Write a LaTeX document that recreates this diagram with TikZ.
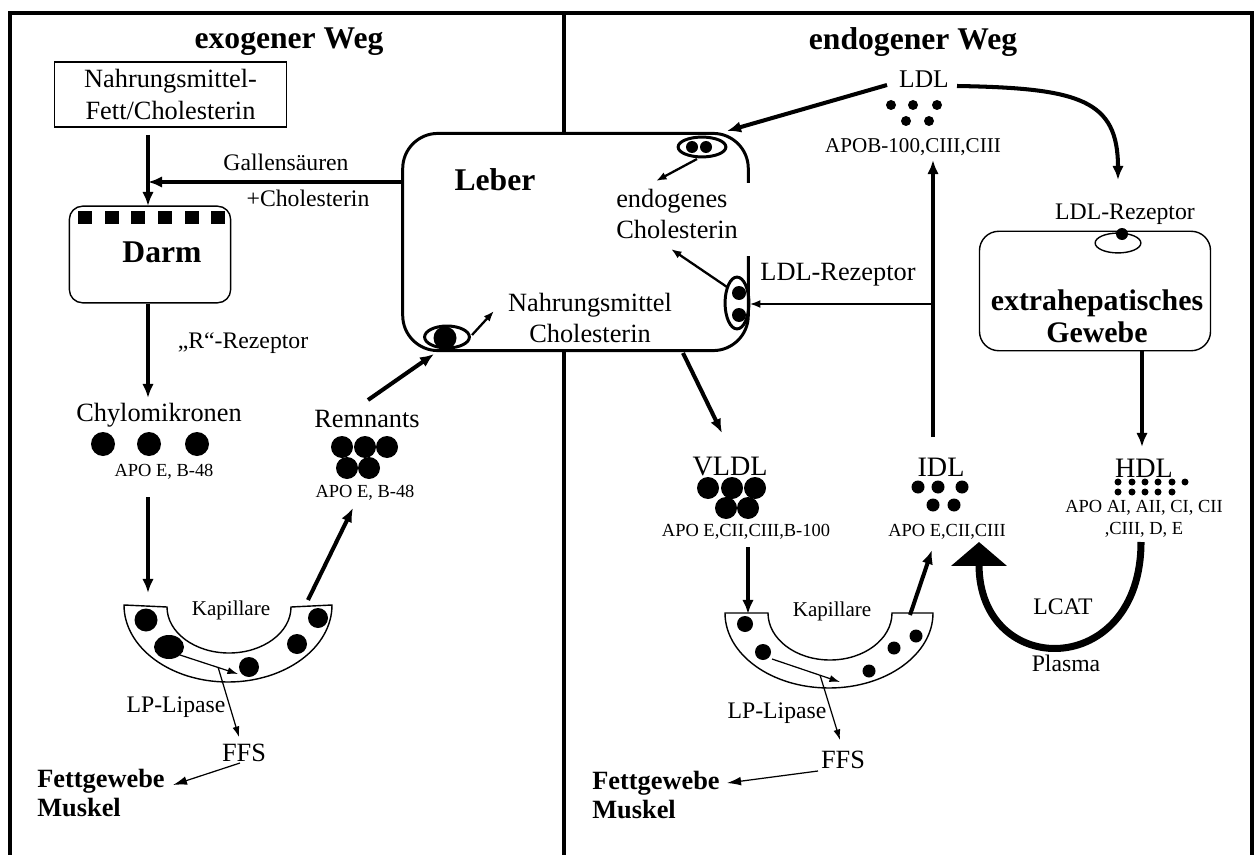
\documentclass[tikz,border=0pt]{standalone}
\usepackage{fontspec}
\setmainfont{Liberation Serif}
\usetikzlibrary{arrows.meta,shapes.geometric}

\tikzset{
  titel/.style={font=\bfseries\fontsize{18}{20}\selectfont, inner sep=1pt},
  organname/.style={font=\bfseries\fontsize{18}{20}\selectfont, inner sep=1pt},
  big/.style={font=\fontsize{15}{18}\selectfont, inner sep=1pt, align=center},
  mid/.style={font=\fontsize{13.5}{15}\selectfont, inner sep=1pt},
  apo/.style={font=\fontsize{10.5}{12.5}\selectfont, inner sep=1pt, align=center},
  lipo/.style={font=\fontsize{16}{18}\selectfont, inner sep=1pt},
  fett/.style={font=\bfseries\fontsize{15}{17}\selectfont, inner sep=0pt, align=left, anchor=west},
  pfeil/.style={line width=2.3pt, -{Latex[length=8pt,width=6.5pt]}},
  mittel/.style={line width=1.3pt, -{Latex[length=6pt,width=4.5pt]}},
  duenn/.style={line width=0.7pt, -{Latex[length=6pt,width=4pt]}},
  organ/.style={draw, line width=0.8pt},
  rezeptor/.style={ellipse, draw, line width=1.7pt, inner sep=0pt},
  kapillare/.style={draw, line width=0.8pt}
}

\begin{document}
\begin{tikzpicture}[x=0.02cm,y=-0.02cm]
\useasboundingbox (0,0) rectangle (1258,855);
% Rahmen
\draw[line width=2.3pt] (10,855) -- (10,13) -- (1252,13) -- (1252,855);
\draw[line width=2.3pt] (564,13) -- (564,855);
\node[titel] (exo) at (289,42) {exogener Weg};
\node[titel] (endo) at (913,42) {endogener Weg};

% exogener Weg
\node[organ, minimum width=132pt, minimum height=36.8pt, big] (nahrung) at (170.5,94.5) {Nahrungsmittel-\\Fett/Cholesterin};
\node[organ, rounded corners=7.5pt, minimum width=91.8pt, minimum height=55pt] (darm) at (150,254.5) {};
\foreach \x in {85,112,138,165,192,218}
  \fill (\x-6.7,211) rectangle (\x+6.7,224);
\node[organname] (darmtext) at (162,252) {Darm};
\node[mid] (galle) at (286,162) {Gallensäuren};
\node[mid] (gallechol) at (308,198) {+Cholesterin};
\node[mid] (rrez) at (243,343) {„R“-Rezeptor};
\node[big] (chylo) at (159,415) {Chylomikronen};
\foreach \x in {103,149,197}
  \fill (\x,444) circle[radius=12];
\node[apo] (apochylo) at (164,472) {APO E, B-48};
\node[big] (remn) at (367,419) {Remnants};
\foreach \x in {342,365,387}
  \fill (\x,447) circle[radius=11];
\foreach \x in {347,369}
  \fill (\x,468) circle[radius=11];
\node[apo] (aporemn) at (365,493) {APO E, B-48};

% Kapillare links
\draw[kapillare] (124,605) -- (167,607) arc[start angle=180, end angle=0, x radius=62, y radius=46]
  -- (332,605) arc[start angle=0, end angle=180, x radius=104, y radius=77] -- cycle;
\fill (146,620) circle[radius=11.5] (249,667) circle[radius=10] (297,644) circle[radius=10] (318,618) circle[radius=10];
\fill (169,647) ellipse[x radius=15, y radius=12];
\node[font=\fontsize{12}{14}\selectfont] (kapL) at (231,610) {Kapillare};
\node[mid] (lipL) at (176,707) {LP-Lipase};
\node[big] (ffsL) at (244,753) {FFS};
\node[fett] (fettL) at (37,793) {Fettgewebe\\Muskel};

% Leber
\node[draw, fill=white, line width=1.7pt, rounded corners=20pt, minimum width=196.7pt, minimum height=123.6pt] (leber) at (575.5,242) {};
\fill[white] (744,183) rectangle (754,256);
\node[organname] (lebertext) at (495,180) {Leber};
\node[big, align=left] (endochol) at (677,214) {endogenes\\Cholesterin};
\node[big] (nahrchol) at (590,318) {Nahrungsmittel\\Cholesterin};
\node[rezeptor, minimum width=25.5pt, minimum height=12.5pt] (rezL) at (447,337) {};
\fill (445,338) circle[radius=11.5];
\node[rezeptor, minimum width=27.2pt, minimum height=11.3pt] (rezO) at (702,147) {};
\fill (692,147) circle[radius=6] (706,147) circle[radius=6];
\node[rezeptor, minimum width=13.6pt, minimum height=29.5pt] (rezR) at (737,303) {};
\fill (739,293) circle[radius=7] (739,315) circle[radius=7];

% endogener Weg
\node[font=\fontsize{14.5}{16}\selectfont, inner sep=1pt] (ldl) at (924,79) {LDL};
\foreach \x in {891,913,937}
  \fill (\x,105) circle[radius=5];
\foreach \x in {906,929}
  \fill (\x,121) circle[radius=5];
\node[font=\fontsize{12}{14}\selectfont, inner sep=1pt] (apoldl) at (913,147) {APOB-100,CIII,CIII};
\node[big] (ldlrez) at (838,275) {LDL-Rezeptor};
\node[mid] (ldlrezE) at (1125,214) {LDL-Rezeptor};
\node[organ, rounded corners=11pt, minimum width=131.5pt, minimum height=68pt] (extra) at (1095,291) {};
\node[rezeptor, line width=0.8pt, minimum width=26pt, minimum height=11.3pt] (rezE) at (1118,243) {};
\fill (1122,234) circle[radius=6];
\node[font=\bfseries\fontsize{17}{18}\selectfont, inner sep=1pt, align=center] (extratext) at (1097,316) {extrahepatisches\\Gewebe};

\node[lipo] (vldl) at (730,467) {VLDL};
\foreach \x in {708,732,755}
  \fill (\x,488) circle[radius=11];
\foreach \x in {726,748}
  \fill (\x,508) circle[radius=11];
\node[apo] (apovldl) at (746,532) {APO E,CII,CIII,B-100};
\node[lipo] (idl) at (941,467) {IDL};
\foreach \x in {918,938,962}
  \fill (\x,487) circle[radius=6.5];
\foreach \x in {933,954}
  \fill (\x,505) circle[radius=6.5];
\node[apo] (apoidl) at (947,532) {APO E,CII,CIII};
\node[lipo] (hdl) at (1144,468) {HDL};
\foreach \x in {1118,1132,1145,1158,1172,1185}
  \fill (\x,482) circle[radius=3.5];
\foreach \x in {1118,1132,1145,1158,1172}
  \fill (\x,492) circle[radius=3.5];
\node[apo, font=\fontsize{10.5}{12.5}\selectfont] (apohdl) at (1144,519) {APO AI, AII, CI, CII\\,CIII, D, E};
\node[mid] (lcat) at (1063,607) {LCAT};
\node[mid] (plasma) at (1066,663) {Plasma};

% Kapillare rechts
\draw[kapillare] (725,613) -- (768,613) arc[start angle=180, end angle=0, x radius=62, y radius=47]
  -- (933,613) arc[start angle=0, end angle=180, x radius=104, y radius=75] -- cycle;
\fill (745,624) circle[radius=8] (763,652) circle[radius=8] (869,671) circle[radius=6.5]
  (894,648) circle[radius=6.5] (916,636) circle[radius=6.5];
\node[font=\fontsize{12}{14}\selectfont] (kapR) at (832,611) {Kapillare};
\node[mid] (lipR) at (777,713) {LP-Lipase};
\node[big] (ffsR) at (843,760) {FFS};
\node[fett] (fettR) at (592,795) {Fettgewebe\\Muskel};

% Pfeile
\coordinate (gal) at (148,182);
\coordinate (kapLo) at (148,593);
\coordinate (kapLr) at (308,600);
\coordinate (remnU) at (353,508);
\coordinate (remnO) at (368,400);
\coordinate (rezLz) at (434,354);
\coordinate (nahrz) at (494,311);
\coordinate (ldlA) at (887,85);
\coordinate (rezOz) at (727,131);
\coordinate (endoz) at (656,181);
\coordinate (endoz2) at (671,249);
\coordinate (idlO) at (933,437);
\coordinate (ldlU) at (933,160);
\coordinate (abzw) at (933,304);
\coordinate (ldlB) at (957,86);
\coordinate (rezEz) at (1118,180);
\coordinate (hdlU) at (1141,542);
\coordinate (idlU) at (979,542);
\coordinate (leberU) at (683,353);
\coordinate (vldlO) at (722,433);
\coordinate (kapRo) at (748,614);
\coordinate (kapRr) at (910,615);
\coordinate (idlz) at (932,550);

\draw[pfeil] (148,135) -- (148,206);
\draw[pfeil] (leber.west |- gal) -- (gal);
\draw[pfeil] (darm.south -| gal) -- (148,398);
\draw[pfeil] (148,497) -- (kapLo);
\draw[pfeil] (kapLr) -- (remnU);
\draw[pfeil] (remnO) -- (rezLz);
\draw[mittel] (472,335) -- (nahrz);
\draw[duenn] (180,655) -- (238,674);
\draw[duenn] (218,667) -- (239,737);
\draw[duenn, -{Latex[length=8pt,width=5pt]}] (240,763) -- (173,785);

\draw[pfeil] (ldlA) -- (rezOz);
\draw[mittel] (697,159) -- (endoz);
\draw[mittel] (727,287) -- (endoz2);
\draw[pfeil] (idlO) -- (ldlU);
\draw[line width=1pt, -{Latex[length=6pt,width=4.5pt]}] (abzw) -- (leber.east |- abzw);
\draw[pfeil] (ldlB) .. controls (1080,88) and (1118,100) .. (rezEz);
\draw[pfeil] (extra.south -| 1142,0) -- (1142,447);
\draw[line width=4pt, -{Triangle[length=13.6pt,width=31pt]}] (hdlU) .. controls (1141,680) and (979,680) .. (idlU);
\draw[pfeil] (leberU) -- (vldlO);
\draw[pfeil] (748,547) -- (kapRo);
\draw[pfeil] (kapRr) -- (idlz);
\draw[duenn] (772,659) -- (840,682);
\draw[duenn] (820,675) -- (840,740);
\draw[duenn, -{Latex[length=8pt,width=5pt]}] (818,771) -- (727,783);
\end{tikzpicture}
\end{document}
